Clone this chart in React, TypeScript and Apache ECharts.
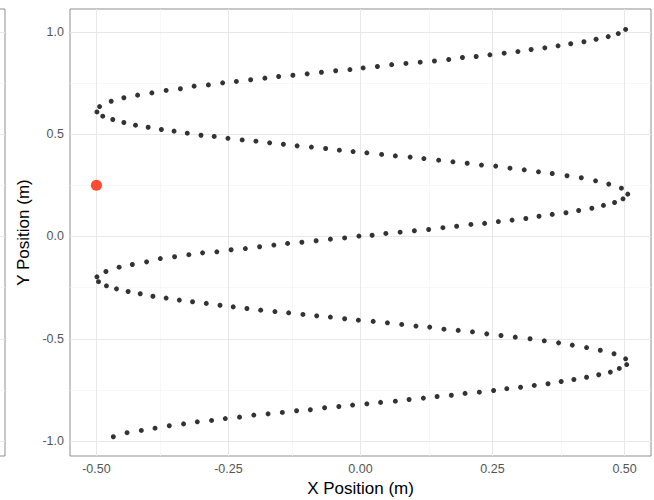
import React, { useEffect, useRef } from "react";
import * as echarts from "echarts";

// Path of the ball, one array of [x, y] per sweep
const sweep1: number[][] = [
  [-0.468, -0.979], [-0.442, -0.959], [-0.415, -0.948], [-0.389, -0.937], [-0.362, -0.925],
  [-0.335, -0.916], [-0.309, -0.906], [-0.282, -0.899], [-0.256, -0.89], [-0.229, -0.883],
  [-0.202, -0.873], [-0.175, -0.867], [-0.148, -0.86], [-0.121, -0.852], [-0.095, -0.847],
  [-0.068, -0.837], [-0.041, -0.831], [-0.015, -0.824], [0.012, -0.818], [0.038, -0.811],
  [0.066, -0.805], [0.092, -0.797], [0.119, -0.79], [0.145, -0.782], [0.172, -0.776],
  [0.198, -0.767], [0.225, -0.761], [0.252, -0.753], [0.277, -0.744], [0.303, -0.737],
  [0.329, -0.728], [0.355, -0.72], [0.38, -0.709], [0.404, -0.699], [0.428, -0.688],
  [0.451, -0.676], [0.473, -0.663], [0.49, -0.645], [0.504, -0.626],
];
const sweep2: number[][] = [
  [0.502, -0.598], [0.48, -0.573], [0.454, -0.556], [0.428, -0.543], [0.401, -0.531],
  [0.375, -0.52], [0.348, -0.51], [0.321, -0.5], [0.293, -0.492], [0.266, -0.484],
  [0.239, -0.476], [0.212, -0.466], [0.185, -0.459], [0.158, -0.453], [0.131, -0.443],
  [0.105, -0.438], [0.078, -0.43], [0.051, -0.422], [0.024, -0.415], [-0.004, -0.409],
  [-0.03, -0.402], [-0.057, -0.394], [-0.083, -0.388], [-0.109, -0.381], [-0.136, -0.373],
  [-0.162, -0.367], [-0.189, -0.36], [-0.215, -0.352], [-0.241, -0.344], [-0.266, -0.336],
  [-0.292, -0.327], [-0.318, -0.319], [-0.343, -0.311], [-0.368, -0.301], [-0.393, -0.292],
  [-0.417, -0.28], [-0.44, -0.269], [-0.462, -0.256], [-0.481, -0.241], [-0.496, -0.221],
];
const sweep3: number[][] = [
  [-0.499, -0.197], [-0.482, -0.171], [-0.457, -0.15], [-0.432, -0.137], [-0.405, -0.124],
  [-0.379, -0.108], [-0.352, -0.099], [-0.325, -0.089], [-0.299, -0.08], [-0.272, -0.075],
  [-0.245, -0.065], [-0.218, -0.059], [-0.191, -0.05], [-0.164, -0.042], [-0.138, -0.034],
  [-0.111, -0.028], [-0.084, -0.021], [-0.057, -0.013], [-0.03, -0.007], [-0.003, 0.002],
  [0.022, 0.006], [0.048, 0.015], [0.075, 0.021], [0.102, 0.028], [0.129, 0.034],
  [0.156, 0.043], [0.182, 0.05], [0.209, 0.059], [0.235, 0.064], [0.261, 0.073],
  [0.287, 0.08], [0.313, 0.088], [0.338, 0.099], [0.363, 0.108], [0.389, 0.116],
  [0.413, 0.127], [0.438, 0.138], [0.46, 0.152], [0.481, 0.166], [0.497, 0.184],
];
const sweep4: number[][] = [
  [0.506, 0.207], [0.494, 0.236], [0.47, 0.256], [0.445, 0.272], [0.418, 0.287],
  [0.391, 0.297], [0.363, 0.308], [0.337, 0.316], [0.31, 0.326], [0.283, 0.334],
  [0.256, 0.344], [0.229, 0.349], [0.202, 0.358], [0.175, 0.365], [0.148, 0.373],
  [0.12, 0.381], [0.094, 0.388], [0.066, 0.394], [0.04, 0.401], [0.012, 0.409],
  [-0.014, 0.415], [-0.04, 0.422], [-0.066, 0.43], [-0.093, 0.437], [-0.12, 0.443],
  [-0.146, 0.451], [-0.172, 0.458], [-0.198, 0.466], [-0.224, 0.472], [-0.251, 0.48],
  [-0.277, 0.489], [-0.302, 0.495], [-0.328, 0.505], [-0.353, 0.515], [-0.377, 0.523],
  [-0.402, 0.534], [-0.426, 0.544], [-0.448, 0.557], [-0.469, 0.572], [-0.488, 0.588],
];
const sweep5: number[][] = [
  [-0.499, 0.609], [-0.494, 0.635], [-0.472, 0.661], [-0.448, 0.678], [-0.422, 0.691],
  [-0.395, 0.702], [-0.368, 0.714], [-0.341, 0.722], [-0.315, 0.735], [-0.288, 0.741],
  [-0.261, 0.751], [-0.235, 0.758], [-0.208, 0.766], [-0.181, 0.774], [-0.155, 0.782],
  [-0.128, 0.788], [-0.101, 0.795], [-0.074, 0.803], [-0.047, 0.81], [-0.02, 0.816],
  [0.005, 0.824], [0.032, 0.831], [0.059, 0.84], [0.086, 0.846], [0.113, 0.852],
  [0.14, 0.858], [0.167, 0.865], [0.193, 0.875], [0.219, 0.88], [0.245, 0.888],
  [0.272, 0.896], [0.298, 0.904], [0.323, 0.914], [0.349, 0.922], [0.374, 0.932],
  [0.398, 0.942], [0.423, 0.952], [0.446, 0.964], [0.469, 0.977], [0.488, 0.992],
  [0.502, 1.012],
];

const startX = [-0.5];
const startY = [0.25];

const xTicks = [-0.5, -0.25, 0, 0.25, 0.5];
const xMinor = [-0.375, -0.125, 0.125, 0.375];
const yTicks = [-1, -0.5, 0, 0.5, 1];
const yMinor = [-0.75, -0.25, 0.25, 0.75];

const xRange = [-0.55, 0.55];
const yRange = [-1.073, 1.112];

const FONT = "Liberation Sans";
const MAJOR = "#e8e8e8";
const MINOR = "#f3f3f3";
const BORDER = "#8f8f8f";

function gridMarkLines(xs: number[], ys: number[], color: string, width: number) {
  return {
    silent: true,
    z: 1,
    zlevel: 0,
    symbol: ["none", "none"],
    label: { show: false },
    emphasis: { disabled: true },
    lineStyle: { type: "solid", color, width },
    data: [...xs.map((v) => ({ xAxis: v })), ...ys.map((v) => ({ yAxis: v }))],
  };
}

export default function App() {
  const ref = useRef<HTMLDivElement>(null);

  useEffect(() => {
    document.body.style.margin = "0";
    if (!ref.current) return;
    const chart = echarts.init(ref.current, null, { renderer: "svg" });
    const dots = [...sweep1, ...sweep2, ...sweep3, ...sweep4, ...sweep5];
    const start = startX.map((x, i) => [x, startY[i]]);

    chart.setOption({
      animation: false,
      backgroundColor: "#ffffff",
      textStyle: { fontFamily: FONT },
      grid: [
        {
          left: 70, top: 9, width: 581, height: 447, outerBoundsMode: "none", containLabel: false,
          show: true, borderColor: BORDER, borderWidth: 1, backgroundColor: "#ffffff",
        },
        {
          left: -60, top: 9, width: 65, height: 447, outerBoundsMode: "none", containLabel: false,
          show: true, borderColor: BORDER, borderWidth: 1, backgroundColor: "#ffffff",
        },
      ],
      xAxis: [
        {
          type: "value", gridIndex: 0, min: xRange[0], max: xRange[1],
          axisLine: { show: false },
          splitLine: { show: false },
          axisTick: { show: true, customValues: xTicks, length: 4, lineStyle: { color: "#555", width: 1 } },
          axisLabel: {
            customValues: xTicks, color: "#555", fontSize: 12.5, margin: 6, fontFamily: FONT,
            formatter: (v: number) => v.toFixed(2),
          },
          name: "X Position (m)", nameLocation: "middle", nameGap: 23,
          nameTextStyle: { color: "#000", fontSize: 17, fontFamily: FONT },
        },
        { type: "value", gridIndex: 1, min: 0, max: 1, show: false },
      ],
      yAxis: [
        {
          type: "value", gridIndex: 0, min: yRange[0], max: yRange[1],
          axisLine: { show: false },
          splitLine: { show: false },
          axisTick: { show: true, customValues: yTicks, length: 4, lineStyle: { color: "#555", width: 1 } },
          axisLabel: {
            customValues: yTicks, color: "#555", fontSize: 12.5, margin: 6, fontFamily: FONT,
            formatter: (v: number) => v.toFixed(1),
          },
          name: "Y Position (m)", nameLocation: "middle", nameGap: 36,
          nameTextStyle: { color: "#000", fontSize: 17, fontFamily: FONT },
        },
        { type: "value", gridIndex: 1, min: yRange[0], max: yRange[1], show: false },
      ],
      series: [
        {
          type: "scatter", xAxisIndex: 0, yAxisIndex: 0, data: [], z: 1, silent: true,
          markLine: gridMarkLines(xMinor, yMinor, MINOR, 0.7),
        },
        {
          type: "scatter", xAxisIndex: 0, yAxisIndex: 0, data: [], z: 1, silent: true,
          markLine: gridMarkLines(xTicks, yTicks, MAJOR, 1),
        },
        {
          type: "scatter", xAxisIndex: 1, yAxisIndex: 1, data: [], z: 1, silent: true,
          markLine: gridMarkLines([], yMinor, MINOR, 0.7),
        },
        {
          type: "scatter", xAxisIndex: 1, yAxisIndex: 1, data: [], z: 1, silent: true,
          markLine: gridMarkLines([], yTicks, MAJOR, 1),
        },
        {
          type: "scatter", xAxisIndex: 0, yAxisIndex: 0, z: 10,
          data: dots, symbol: "circle", symbolSize: 5,
          itemStyle: { color: "#000000" },
        },
        {
          type: "scatter", xAxisIndex: 0, yAxisIndex: 0, z: 11,
          data: start, symbol: "circle", symbolSize: 11,
          itemStyle: { color: "#ff1e00" },
        },
      ],
    });

    return () => chart.dispose();
  }, []);

  return <div ref={ref} style={{ width: 654, height: 500, background: "#fff" }} />;
}
